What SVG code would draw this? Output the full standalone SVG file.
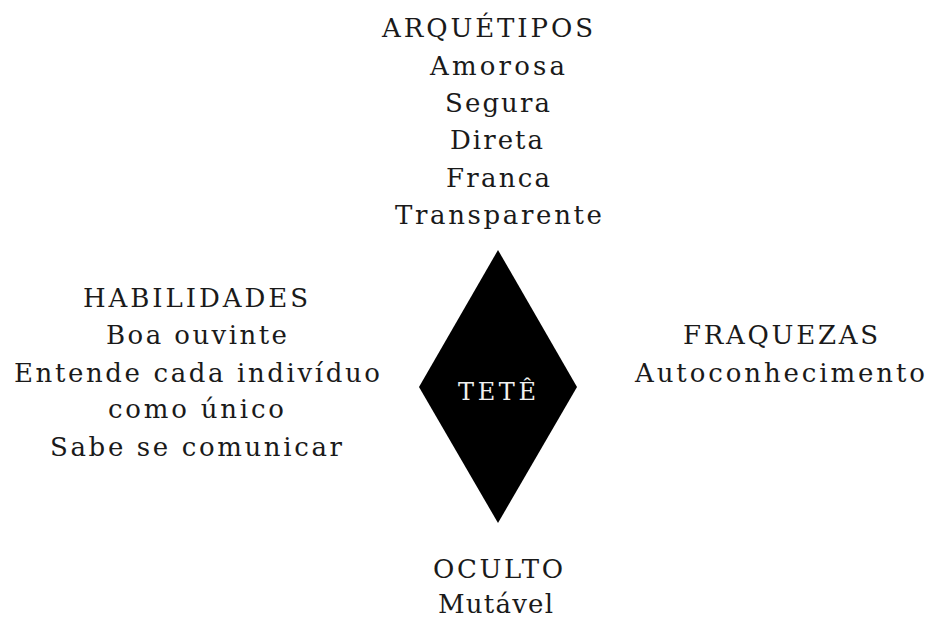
<svg xmlns="http://www.w3.org/2000/svg" width="933" height="620" viewBox="0 0 933 620">
<style>
text{font-family:"DejaVu Serif","Liberation Serif",serif;font-size:26px;fill:#1a1a1a;text-anchor:middle}
.c{fill:#f0f0f0;font-size:24px}
</style>
<rect width="933" height="620" fill="#fff"/>
<g id="connectors"></g>
<g id="center">
<polygon points="498,250 577,387 498,523 419,387" fill="#000"/>
<text class="c" x="497" y="400" textLength="78" lengthAdjust="spacing">TETÊ</text>
</g>
<g id="arquetipos">
<text x="487.5" y="37" textLength="211" lengthAdjust="spacing">ARQUÉTIPOS</text>
<text x="497.5" y="75" textLength="135" lengthAdjust="spacing">Amorosa</text>
<text x="497.5" y="112" textLength="105" lengthAdjust="spacing">Segura</text>
<text x="496.5" y="149" textLength="93" lengthAdjust="spacing">Direta</text>
<text x="498" y="187" textLength="104" lengthAdjust="spacing">Franca</text>
<text x="498.5" y="224" textLength="207" lengthAdjust="spacing">Transparente</text>
</g>
<g id="habilidades">
<text x="195.5" y="307" textLength="225" lengthAdjust="spacing">HABILIDADES</text>
<text x="196.5" y="344" textLength="181" lengthAdjust="spacing">Boa ouvinte</text>
<text x="197" y="382" textLength="366" lengthAdjust="spacing">Entende cada indivíduo</text>
<text x="196" y="418" textLength="176" lengthAdjust="spacing">como único</text>
<text x="196" y="456" textLength="292" lengthAdjust="spacing">Sabe se comunicar</text>
</g>
<g id="fraquezas">
<text x="780.5" y="344" textLength="195" lengthAdjust="spacing">FRAQUEZAS</text>
<text x="780" y="382" textLength="290" lengthAdjust="spacing">Autoconhecimento</text>
</g>
<g id="oculto">
<text x="498" y="578" textLength="130" lengthAdjust="spacing">OCULTO</text>
<text x="495.5" y="613" textLength="115" lengthAdjust="spacing">Mutável</text>
</g>
</svg>
